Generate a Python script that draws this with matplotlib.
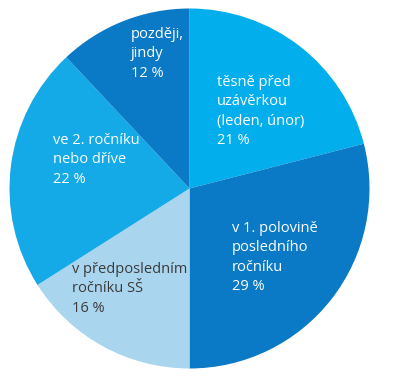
import matplotlib
matplotlib.use("Agg")
import matplotlib.pyplot as plt

# Shares of respondents by when they decided (clockwise from 12 o'clock)
categories = [
    "těsně před\nuzávěrkou\n(leden, únor)",
    "v 1. polovině\nposledního\nročníku",
    "v předposledním\nročníku SŠ",
    "ve 2. ročníku\nnebo dříve",
    "později,\njindy",
]
values = [21, 29, 16, 22, 12]
colors = ["#03aeed", "#0a79c6", "#a9d6ee", "#14a9e7", "#0a79c6"]
text_colors = ["white", "white", "#3a3a3a", "white", "white"]

W, H = 393, 389
fig = plt.figure(figsize=(W / 100, H / 100), dpi=100)
ax = fig.add_axes([0, 0, 1, 1])

cx, cy, R = 189.5, 188.5, 180.0
ax.pie(values, colors=colors, startangle=90, counterclock=False,
       radius=1.0, center=(0, 0), wedgeprops=dict(linewidth=0))
ax.set_xlim(-cx / R, (W - cx) / R)
ax.set_ylim(-(H - cy) / R, cy / R)
ax.set_aspect("equal")
ax.axis("off")

# label anchors (pixel position of first-line baseline, left aligned)
anchors = [(217, 86), (232, 232), (72, 273), (53, 144), (131, 38)]

def to_data(px, py):
    return (px - cx) / R, (cy - py) / R

for cat, val, tc, (px, py) in zip(categories, values, text_colors, anchors):
    x, y = to_data(px, py - 11)
    ax.text(x, y, f"{cat}\n{val} %", color=tc, fontsize=10.5,
            family=["Open Sans", "DejaVu Sans"], ha="left", va="top",
            linespacing=1.4)

fig.savefig("out.png", dpi=100)
